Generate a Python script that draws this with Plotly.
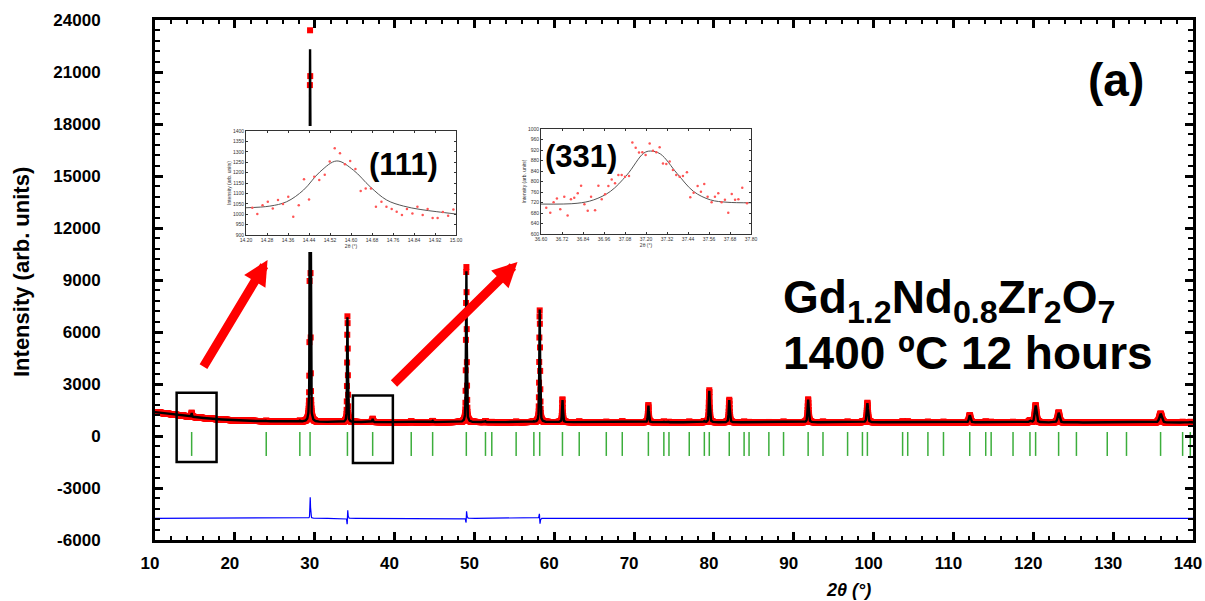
import numpy as np
import plotly.graph_objects as go

W, H = 1205, 601

# ---------------- data ----------------
# background of the pattern (2theta, counts)
bg_x = [10, 12, 14, 16, 18, 20, 24, 30, 40, 60, 80, 100, 120, 140]
bg_y = [1380, 1260, 1140, 1040, 960, 900, 850, 810, 800, 800, 790, 790, 780, 770]

# Bragg reflection positions (green tick row)
bragg_pos = [14.59, 23.93, 28.14, 29.42, 34.10, 37.26, 42.09, 44.77, 48.99, 51.39,
             52.18, 55.23, 57.45, 58.18, 61.03, 63.13, 66.52, 68.52, 71.79, 73.73,
             74.37, 76.91, 78.80, 79.42, 81.92, 83.78, 84.40, 86.88, 88.72, 91.80,
             93.66, 96.74, 98.60, 99.22, 103.63, 104.27, 106.80, 108.75, 112.04, 114.04,
             114.72, 117.46, 119.58, 120.29, 123.17, 125.40, 129.26, 131.67, 135.94, 138.70,
             139.66]
# peak heights above background: observed and calculated
obs_int = [240, 30, 50, 22600, 6150, 200, 40, 70, 9070, 50,
           10, 20, 40, 6470, 1330, 30, 20, 40, 1000, 30,
           20, 30, 60, 1850, 1300, 30, 20, 20, 30, 1330,
           30, 30, 30, 1130, 40, 40, 30, 30, 420, 40,
           30, 30, 100, 1000, 580, 30, 20, 30, 520, 40,
           40]
calc_int = [225, 30, 50, 21500, 6050, 190, 40, 70, 8950, 50,
            10, 20, 40, 6500, 1300, 30, 20, 40, 980, 30,
            20, 30, 60, 1820, 1280, 30, 20, 20, 30, 1310,
            30, 30, 30, 1110, 40, 40, 30, 30, 410, 40,
            30, 30, 100, 985, 570, 30, 20, 30, 510, 40,
            40]
# small position offsets of the observed peaks (deg)
obs_shift = [0, 0, 0, 0.001, 0.005, 0, 0, 0, 0.003, 0,
             0, 0, 0, -0.004, 0, 0, 0, 0, 0, 0,
             0, 0, 0, 0, 0, 0, 0, 0, 0, 0,
             0, 0, 0, 0, 0, 0, 0, 0, 0, 0,
             0, 0, 0, 0, 0, 0, 0, 0, 0, 0,
             0]

diff_offset = -4750
bragg_low, bragg_high = -1150, 230

x_ticks = list(range(10, 141, 10))
y_ticks = [-6000, -3000, 0, 3000, 6000, 9000, 12000, 15000, 18000, 21000, 24000]
y_ticktext = ["-6000", "-3000", "0", "3000", "6000", "9000", "12000", "15000", "18000", "21000", "24000"]

# inset (111)
ins1_obs_x = [14.224, 14.243, 14.263, 14.283, 14.302, 14.322, 14.341, 14.361, 14.380, 14.401,
              14.421, 14.440, 14.460, 14.479, 14.500, 14.519, 14.538, 14.558, 14.577, 14.597,
              14.617, 14.637, 14.656, 14.676, 14.695, 14.716, 14.735, 14.755, 14.774, 14.794,
              14.813, 14.834, 14.853, 14.873, 14.892, 14.911, 14.930, 14.950, 14.970, 14.990]
ins1_obs_y = [1031, 1001, 1043, 1060, 1027, 1068, 1049, 1084, 988, 1043,
              1168, 1071, 1180, 1164, 1190, 1253, 1317, 1293, 1240, 1256,
              1217, 1112, 1124, 1124, 1036, 1060, 1036, 1025, 1012, 996,
              1025, 1003, 1036, 996, 1025, 982, 982, 1011, 993, 1022]
ins1_calc_x = [14.20, 14.291, 14.355, 14.419, 14.482, 14.546, 14.609, 14.673, 14.736, 14.800, 14.863, 14.927, 15.00]
ins1_calc_y = [1031, 1039, 1060, 1116, 1204, 1256, 1212, 1132, 1068, 1039, 1023, 1012, 1001]
ins1_xticks = [14.20, 14.28, 14.36, 14.44, 14.52, 14.60, 14.68, 14.76, 14.84, 14.92, 15.00]
ins1_yticks = [900, 950, 1000, 1050, 1100, 1150, 1200, 1250, 1300, 1350, 1400]

# inset (331)
ins2_obs_x = [36.630, 36.653, 36.672, 36.691, 36.710, 36.733, 36.752, 36.771, 36.790, 36.810,
              36.829, 36.848, 36.867, 36.886, 36.909, 36.928, 36.947, 36.966, 36.985, 37.004,
              37.023, 37.042, 37.061, 37.080, 37.103, 37.122, 37.141, 37.160, 37.179, 37.198,
              37.221, 37.240, 37.259, 37.278, 37.297, 37.316, 37.335, 37.354, 37.373, 37.392,
              37.411, 37.434, 37.453, 37.472, 37.495, 37.514, 37.533, 37.552, 37.575, 37.594,
              37.613, 37.632, 37.651, 37.670, 37.690, 37.709, 37.728, 37.750, 37.777]
ins2_obs_y = [700, 681, 721, 735, 694, 742, 670, 732, 738, 755,
              784, 713, 689, 742, 690, 784, 732, 751, 783, 808,
              793, 825, 825, 818, 821, 949, 929, 910, 911, 901,
              945, 917, 911, 930, 869, 867, 876, 844, 825, 818,
              821, 835, 740, 757, 783, 761, 790, 742, 721, 742,
              755, 721, 730, 681, 752, 730, 732, 776, 717]
ins2_calc_x = [36.60, 36.806, 36.901, 36.996, 37.091, 37.187, 37.225, 37.282, 37.377, 37.472, 37.568, 37.663, 37.80]
ins2_calc_y = [714, 717, 730, 762, 825, 908, 916, 905, 831, 762, 730, 721, 719]
ins2_xticks = [36.60, 36.72, 36.84, 36.96, 37.08, 37.20, 37.32, 37.44, 37.56, 37.68, 37.80]
ins2_yticks = [600, 640, 680, 720, 760, 800, 840, 880, 920, 960, 1000]

# ---------------- profile model ----------------
step = 0.02
tt = np.round(np.arange(10, 140 + step / 2, step), 4)


def profile(centers, heights):
    y = np.interp(tt, bg_x, bg_y).astype(float)
    for c, h in zip(centers, heights):
        t = np.tan(np.radians(c / 2.0))
        fw = np.sqrt(0.02 * t * t + 0.008)
        u = 2.0 * (tt - c) / fw
        y += h * (0.5 * np.exp(-np.log(2) * u * u) + 0.5 / (1 + u * u))
    return y


y_calc = profile(bragg_pos, calc_int)
y_obs = profile([p + s for p, s in zip(bragg_pos, obs_shift)], obs_int)
y_diff = y_obs - y_calc + diff_offset

bx, by = [], []
for p in bragg_pos:
    bx += [p, p, None]
    by += [bragg_low, bragg_high, None]


def px_x(p):
    return p / W


def px_y(p):
    return 1 - p / H


fig = go.Figure()
fig.add_trace(go.Scatter(x=tt, y=y_obs, mode="markers",
                         marker=dict(symbol="square", size=6, color="#ff0000", line=dict(width=0)),
                         showlegend=False, hoverinfo="skip"))
fig.add_trace(go.Scatter(x=tt, y=y_calc, mode="lines", line=dict(color="black", width=2.4),
                         showlegend=False, hoverinfo="skip"))
fig.add_trace(go.Scatter(x=bx, y=by, mode="lines", line=dict(color="#3cae3c", width=1.5),
                         showlegend=False, hoverinfo="skip"))
fig.add_trace(go.Scatter(x=tt, y=y_diff, mode="lines", line=dict(color="#0000ff", width=1.2),
                         showlegend=False, hoverinfo="skip"))

# mask subplot (white area behind inset 1 and its labels)
fig.add_trace(go.Scatter(x=[None], y=[None], xaxis="x2", yaxis="y2", showlegend=False, hoverinfo="skip"))

# inset 1
fig.add_trace(go.Scatter(x=ins1_calc_x, y=ins1_calc_y, mode="lines", line=dict(color="#555555", width=1, shape="spline"),
                         xaxis="x3", yaxis="y3", showlegend=False, hoverinfo="skip"))
fig.add_trace(go.Scatter(x=ins1_obs_x, y=ins1_obs_y, mode="markers", marker=dict(color="#ff5555", size=2.5),
                         xaxis="x3", yaxis="y3", showlegend=False, hoverinfo="skip"))
# inset 2
fig.add_trace(go.Scatter(x=ins2_calc_x, y=ins2_calc_y, mode="lines", line=dict(color="#555555", width=1, shape="spline"),
                         xaxis="x4", yaxis="y4", showlegend=False, hoverinfo="skip"))
fig.add_trace(go.Scatter(x=ins2_obs_x, y=ins2_obs_y, mode="markers", marker=dict(color="#ff5555", size=2.5),
                         xaxis="x4", yaxis="y4", showlegend=False, hoverinfo="skip"))

tickfont = dict(family="Liberation Sans", size=17, color="black", weight="bold")
main_axis = dict(showline=True, linecolor="black", linewidth=3, mirror="ticks", ticks="inside",
                 ticklen=8, tickwidth=2.5, tickcolor="black", showgrid=False, zeroline=False,
                 tickfont=tickfont, automargin=False, ticklabeloverflow="allow")

ins_font = dict(family="Liberation Sans", size=5, color="#333333")
ins_axis = dict(showline=True, linecolor="#333333", linewidth=1, mirror="ticks", ticks="inside",
                ticklen=2, tickwidth=0.6, tickcolor="#333333", showgrid=False, zeroline=False,
                tickfont=ins_font, automargin=False)

fig.update_layout(
    width=W, height=H, margin=dict(l=0, r=0, t=0, b=0, autoexpand=False),
    paper_bgcolor="white", plot_bgcolor="white",
    xaxis=dict(main_axis, domain=[px_x(155), px_x(1193)], range=[10, 140], tickmode="array",
               tickvals=x_ticks, ticktext=[str(v) for v in x_ticks], anchor="y", ticklabelstandoff=6,
               ticklabelshift=-5,
               minor=dict(dtick=2, tick0=10, ticks="inside", ticklen=4, tickwidth=1.5, tickcolor="black")),
    yaxis=dict(main_axis, domain=[px_y(540), px_y(20)], range=[-6000, 24000], tickmode="array",
               tickvals=y_ticks, ticktext=y_ticktext, anchor="x", ticklabelstandoff=48,
               minor=dict(dtick=600, tick0=0, ticks="inside", ticklen=5, tickwidth=1.5, tickcolor="black")),
    xaxis2=dict(domain=[px_x(218), px_x(462)], visible=False, range=[0, 1], anchor="y2", automargin=False),
    yaxis2=dict(domain=[px_y(252), px_y(126)], visible=False, range=[0, 1], anchor="x2", automargin=False),
    xaxis3=dict(ins_axis, domain=[px_x(246), px_x(456)], range=[14.20, 15.00], tickmode="array",
                tickvals=ins1_xticks, ticktext=["%.2f" % v for v in ins1_xticks], anchor="y3",
                title=dict(text="2θ (°)", font=ins_font, standoff=1)),
    yaxis3=dict(ins_axis, domain=[px_y(235), px_y(131)], range=[900, 1400], tickmode="array",
                tickvals=ins1_yticks, ticktext=[str(v) for v in ins1_yticks], anchor="x3",
                title=dict(text="Intensity (arb. units)", font=ins_font, standoff=1)),
    xaxis4=dict(ins_axis, domain=[px_x(541), px_x(751)], range=[36.60, 37.80], tickmode="array",
                tickvals=ins2_xticks, ticktext=["%.2f" % v for v in ins2_xticks], anchor="y4",
                title=dict(text="2θ (°)", font=ins_font, standoff=1)),
    yaxis4=dict(ins_axis, domain=[px_y(234), px_y(129)], range=[600, 1000], tickmode="array",
                tickvals=ins2_yticks, ticktext=[str(v) for v in ins2_yticks], anchor="x4",
                title=dict(text="Intensity (arb. units)", font=ins_font, standoff=1)),
)

# boxes around the (111) and (331) regions
for x0, x1, y0, y1 in [(12.71, 17.71, -1500, 2500), (34.79, 39.79, -1560, 2330)]:
    fig.add_shape(type="rect", xref="x", yref="y", x0=x0, x1=x1, y0=y0, y1=y1,
                  line=dict(color="black", width=2.5), fillcolor="rgba(0,0,0,0)", layer="above")

big = dict(family="Liberation Sans", color="black")
annos = [
    dict(x=px_x(1116), y=px_y(80), text="<b>(a)</b>", font=dict(big, size=46)),
    dict(x=px_x(781), y=px_y(300), xanchor="left",
         text="<b>Gd<sub>1.2</sub>Nd<sub>0.8</sub>Zr<sub>2</sub>O<sub>7</sub></b>", font=dict(big, size=46)),
    dict(x=px_x(781), y=px_y(353), xanchor="left", text="<b>1400 ºC 12 hours</b>", font=dict(big, size=46)),
    dict(x=px_x(404), y=px_y(164), text="<b>(111)</b>", font=dict(big, size=31)),
    dict(x=px_x(581), y=px_y(156), text="<b>(331)</b>", font=dict(big, size=31)),
    dict(x=px_x(21), y=px_y(272), text="<b>Intensity (arb. units)</b>", textangle=-90, font=dict(big, size=22)),
    dict(x=px_x(848), y=px_y(590), text="<b><i>2θ (°)</i></b>", font=dict(big, size=18)),
]
for a in annos:
    a.setdefault("xanchor", "center")
    fig.add_annotation(xref="paper", yref="paper", showarrow=False, yanchor="middle", **a)

# red arrows
for tip_x, tip_y, ax, ay in [(24.1, 10150, -65, 108), (55.4, 10040, -125, 123)]:
    fig.add_annotation(xref="x", yref="y", x=tip_x, y=tip_y, ax=ax, ay=ay, text="",
                       showarrow=True, arrowhead=2, arrowsize=0.55, arrowwidth=9,
                       arrowcolor="#ff0000", standoff=0)

fig.write_html("out.html")
